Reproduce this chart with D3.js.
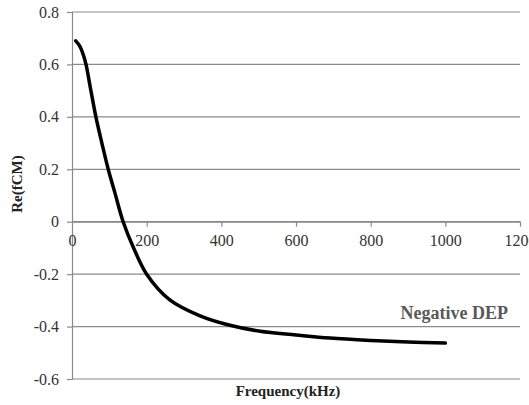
<!DOCTYPE html>
<html>
<head>
<meta charset="utf-8">
<script src="https://cdn.jsdelivr.net/npm/d3@7"></script>
<style>
  body { margin: 0; background: #fff; }
</style>
</head>
<body>
<div id="chart"></div>
<script>
// values
const freq = [10, 20, 30, 37.5, 50, 64, 80, 97, 115, 137, 165, 200, 262, 343, 423, 504, 600, 691, 800, 900, 1000];
const refCM = [0.69, 0.672, 0.638, 0.60, 0.505, 0.40, 0.30, 0.20, 0.11, 0.0, -0.10, -0.20, -0.298, -0.359, -0.395, -0.418, -0.432, -0.444, -0.453, -0.459, -0.463];
const xTicks = [0, 200, 400, 600, 800, 1000, 1200];
const yTicks = [-0.6, -0.4, -0.2, 0, 0.2, 0.4, 0.6, 0.8];

const width = 529, height = 405;
const margin = {top: 12, right: 9, bottom: 26, left: 72};
const serif = "'Liberation Serif', 'Times New Roman', Tinos, 'DejaVu Serif', serif";

const svg = d3.select("#chart")
  .append("svg")
  .attr("width", width)
  .attr("height", height)
  .style("font-family", serif);

const x = d3.scaleLinear()
  .domain([0, 1200])
  .range([margin.left, width - margin.right]);

const y = d3.scaleLinear()
  .domain([-0.6, 0.8])
  .range([height - margin.bottom, margin.top]);

const grid = "#8a8a8a";

// horizontal gridlines
svg.append("g")
  .selectAll("line")
  .data(yTicks)
  .join("line")
  .attr("x1", x(0))
  .attr("x2", x(1200))
  .attr("y1", d => y(d))
  .attr("y2", d => y(d))
  .attr("stroke", grid)
  .attr("stroke-width", 1.2);

const fmt = d => (d === 0 ? "0" : d.toFixed(1));

// y axis
const yAxis = svg.append("g")
  .attr("transform", `translate(${margin.left},0)`)
  .call(d3.axisLeft(y).tickValues(yTicks).tickSize(5).tickPadding(8).tickFormat(fmt))
  .attr("font-family", null);
yAxis.select(".domain").attr("stroke", grid).attr("stroke-width", 1.2);
yAxis.selectAll(".tick line").attr("stroke", grid).attr("stroke-width", 1.2);
yAxis.selectAll(".tick text")
  .attr("font-size", 16)
  .attr("fill", "#333")
  .style("font-family", serif);

// x axis on y = 0
const xAxis = svg.append("g")
  .attr("transform", `translate(0,${y(0)})`)
  .call(d3.axisBottom(x).tickValues(xTicks).tickSize(5).tickPadding(8).tickSizeOuter(0)
    .tickFormat(d => String(d)))
  .attr("font-family", null);
xAxis.select(".domain").attr("stroke", grid).attr("stroke-width", 1.2);
xAxis.selectAll(".tick line").attr("stroke", grid).attr("stroke-width", 1.2)
  .filter(d => d === 0).remove();
xAxis.selectAll(".tick text")
  .attr("font-size", 16)
  .attr("fill", "#333")
  .style("font-family", serif);

// curve
const line = d3.line()
  .x((d, i) => x(freq[i]))
  .y(d => y(d))
  .curve(d3.curveCatmullRom.alpha(0.5));

svg.append("path")
  .datum(refCM)
  .attr("fill", "none")
  .attr("stroke", "#000")
  .attr("stroke-width", 3.5)
  .attr("stroke-linecap", "round")
  .attr("d", line);

// titles
svg.append("text")
  .attr("transform", `translate(22,184) rotate(-90)`)
  .attr("text-anchor", "middle")
  .attr("font-size", 15)
  .attr("font-weight", "bold")
  .attr("fill", "#222")
  .style("font-family", serif)
  .text("Re(fCM)");

svg.append("text")
  .attr("x", 288)
  .attr("y", 396)
  .attr("text-anchor", "middle")
  .attr("font-size", 15)
  .attr("font-weight", "bold")
  .attr("fill", "#222")
  .style("font-family", serif)
  .text("Frequency(kHz)");

svg.append("text")
  .attr("x", 508)
  .attr("y", 319)
  .attr("text-anchor", "end")
  .attr("font-size", 18)
  .attr("font-weight", "bold")
  .attr("fill", "#595959")
  .style("font-family", serif)
  .text("Negative DEP");
</script>
</body>
</html>
